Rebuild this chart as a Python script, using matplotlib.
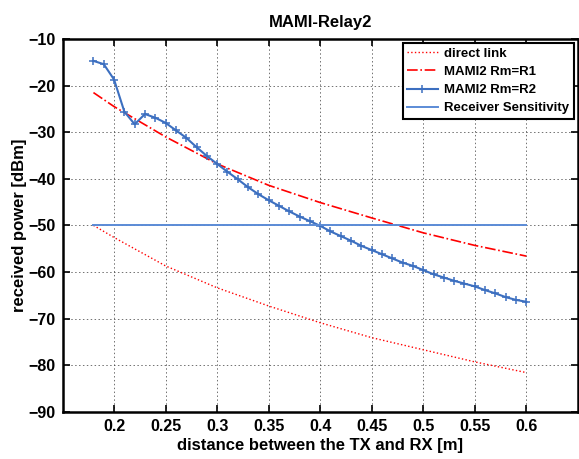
import numpy as np
import matplotlib.pyplot as plt

plt.rcParams['font.family'] = ['Liberation Sans', 'DejaVu Sans']
plt.rcParams['font.weight'] = 'bold'

# distance [m]
d_r2 = np.round(np.arange(0.18, 0.605, 0.01), 2)
# MAMI2 Rm=R2 received power [dBm]
p_r2 = [-14.7, -15.4, -18.7, -25.6, -28.3, -26.1, -26.9, -28.0, -29.6, -31.2,
        -33.2, -35.1, -36.8, -38.5, -40.1, -41.8, -43.3, -44.6, -45.8, -47.0,
        -48.1, -49.1, -50.1, -51.3, -52.3, -53.3, -54.4, -55.3, -56.2, -57.1,
        -58.0, -58.7, -59.6, -60.5, -61.2, -61.9, -62.5, -63.1, -63.9, -64.6,
        -65.4, -66.0, -66.4]

# direct link and MAMI2 Rm=R1
d_smooth = [0.18, 0.2, 0.25, 0.3, 0.35, 0.4, 0.45, 0.5, 0.55, 0.6]
p_direct = [-50.0, -52.6, -58.7, -63.4, -67.3, -70.9, -74.1, -76.7, -79.3, -81.6]
p_r1 = [-21.5, -24.5, -31.0, -36.8, -41.4, -45.1, -48.4, -51.6, -54.3, -56.6]

# receiver sensitivity
d_sens = [0.18, 0.6]
p_sens = [-50, -50]

fig = plt.figure(figsize=(5.79, 4.59), dpi=100)
ax = fig.add_axes([0.108, 0.103, 0.89, 0.812])

ax.plot(d_smooth, p_direct, ':', color='red', lw=1.0, label='direct link')
ax.plot(d_smooth, p_r1, '-.', color='red', lw=1.2, label='MAMI2 Rm=R1')
ax.plot(d_r2, p_r2, '-', color='#3c6fc0', lw=1.5, marker='+', ms=5.5, mew=1.1,
        label='MAMI2 Rm=R2')
ax.plot(d_sens, p_sens, '-', color='#5b8bd6', lw=1.4, label='Receiver Sensitivity')

ax.set_xlim(0.15, 0.65)
ax.set_ylim(-90, -10)
ax.set_xticks([0.2, 0.25, 0.3, 0.35, 0.4, 0.45, 0.5, 0.55, 0.6])
ax.set_xticklabels(['0.2', '0.25', '0.3', '0.35', '0.4', '0.45', '0.5', '0.55', '0.6'])
ax.set_yticks(np.arange(-90, -9, 10))
ax.grid(True, linestyle=(0, (1.5, 2.5)), color='#333333', lw=0.7, alpha=0.7)
ax.tick_params(direction='in', top=True, right=True, labelsize=11.5, width=1.2,
               length=5, pad=5)
for s in ax.spines.values():
    s.set_linewidth(1.8)

ax.set_title('MAMI-Relay2', fontsize=12, fontweight='bold', pad=9)
ax.set_xlabel('distance between the TX and RX [m]', fontsize=12, fontweight='bold', labelpad=3)
ax.set_ylabel('received power [dBm]', fontsize=12, fontweight='bold', labelpad=1)

leg = ax.legend(loc='upper right', fontsize=9.5, fancybox=False, framealpha=1,
                edgecolor='black', borderaxespad=0.3, handlelength=2.3,
                handletextpad=0.5, labelspacing=0.45, borderpad=0.35)
leg.get_frame().set_linewidth(1.5)

fig.savefig('out.png', dpi=100)
